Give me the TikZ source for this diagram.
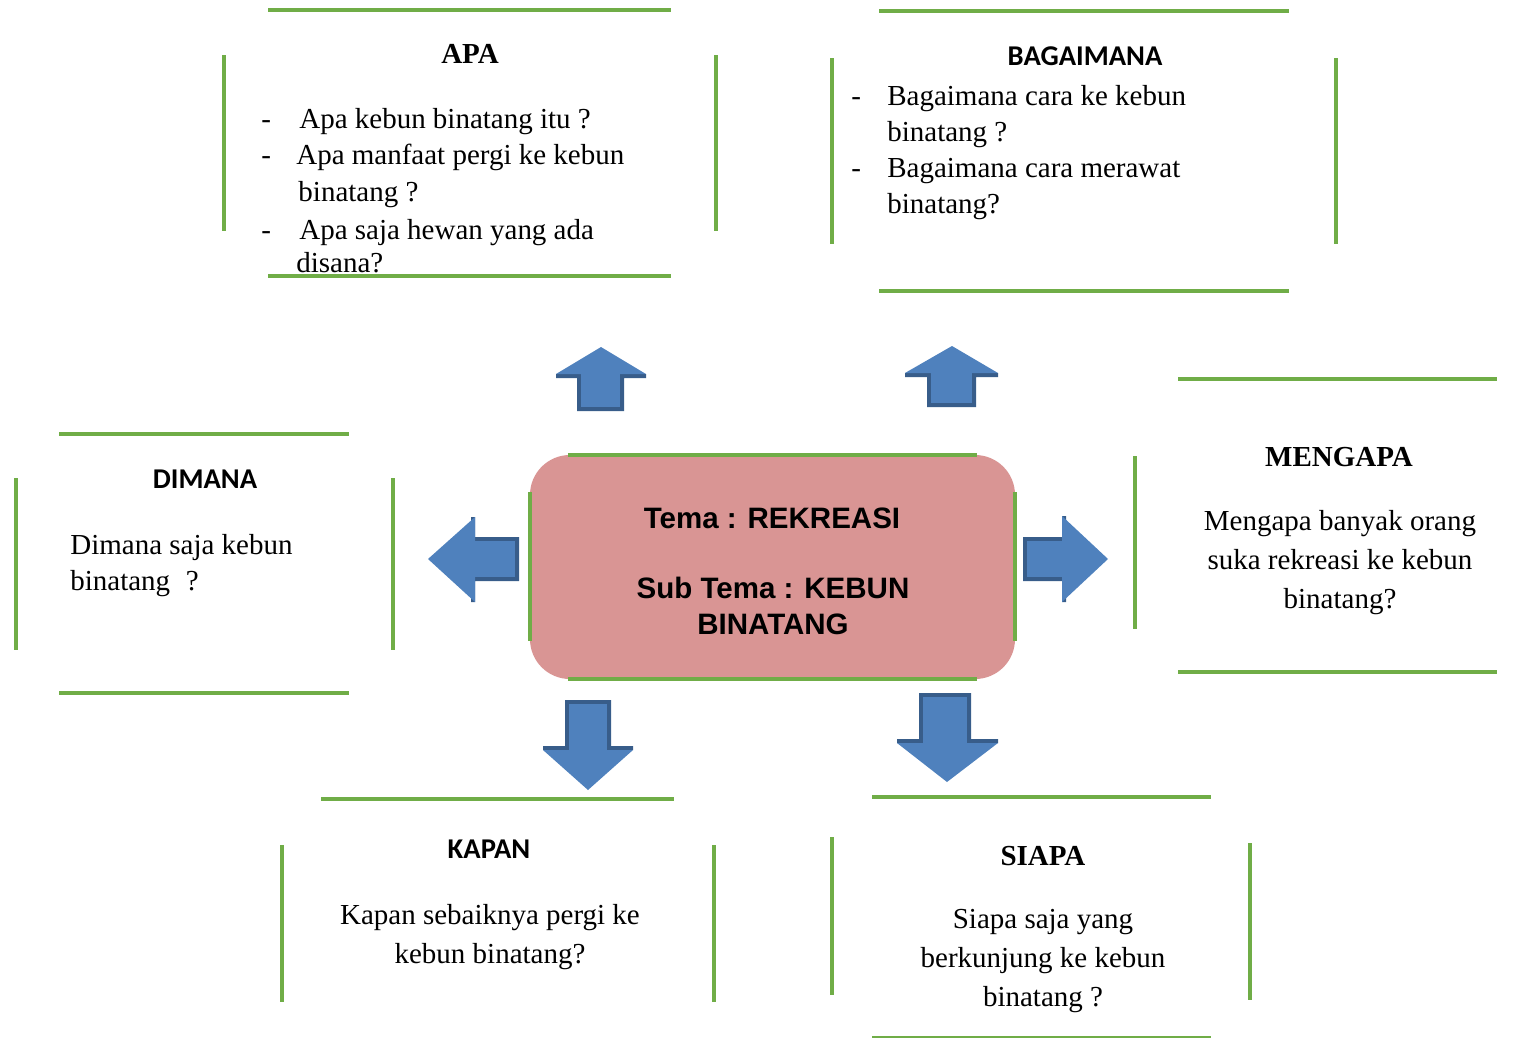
\documentclass[tikz,border=0pt]{standalone}
\usepackage{fontspec}
\setmainfont{Liberation Serif}
\newfontfamily\judulfont{Carlito}
\newfontfamily\temafont{Liberation Sans}
\definecolor{hijau}{RGB}{112,173,71}
\definecolor{merah}{HTML}{D99594}
\definecolor{biru}{HTML}{4F81BD}
\definecolor{birutua}{HTML}{385D8A}
\tikzset{
  garis/.style={hijau,line width=2.8pt},
  judul/.style={font=\bfseries\fontsize{16.5}{20}\selectfont,inner sep=0pt,anchor=base},
  judulsans/.style={font=\judulfont\bfseries\fontsize{16.3}{20}\selectfont,inner sep=0pt,anchor=base},
  isi/.style={font=\fontsize{16.5}{#1}\selectfont,inner sep=0pt,align=left,anchor=base west},
  isi/.default=20.4,
  isitengah/.style={font=\fontsize{16.5}{#1}\selectfont,inner sep=0pt,align=center,anchor=base},
  isitengah/.default=22.1,
  strip/.style={font=\fontsize{16.5}{20}\selectfont,inner sep=0pt,anchor=base west},
  tengah/.style={font=\temafont\bfseries\fontsize{16.8}{20.4}\selectfont,inner sep=0pt,align=center,anchor=base}
}
\begin{document}
\begin{tikzpicture}[x=0.02cm,y=-0.02cm]
\useasboundingbox (0,0) rectangle (1526,1038);
% kotak tema
\fill[merah,rounded corners=22.7pt] (530,455) rectangle (1015,679);
\draw[garis] (568,455)--(977,455) (568,679)--(977,679) (530,492)--(530,641) (1015,492)--(1015,641);
\node[tengah] (tema) at (772,528) {Tema : REKREASI};
\node[tengah] (subtema) at (773,634) {Sub Tema : KEBUN\\BINATANG};
% panah
\fill[birutua] (556,374) rectangle (646,378) (577,374) rectangle (624,411);
\fill[biru] (556,374)--(601,347)--(646,374)--cycle;
\fill[biru] (581,372) rectangle (620,407);
\fill[birutua] (905,373) rectangle (998,377) (927,373) rectangle (976,407);
\fill[biru] (905,373)--(952,346)--(998,373)--cycle;
\fill[biru] (931,371) rectangle (972,403);
\fill[birutua] (543,746) rectangle (633,750) (565,700) rectangle (611,750);
\fill[biru] (543,750)--(588,790)--(633,750)--cycle;
\fill[biru] (569,704) rectangle (607,752);
\fill[birutua] (897,739) rectangle (998,743) (919,693) rectangle (971,743);
\fill[biru] (897,743)--(947,782)--(998,743)--cycle;
\fill[biru] (923,697) rectangle (967,745);
\fill[birutua] (471,517) rectangle (475,602) (471,537) rectangle (519,581);
\fill[biru] (475,517)--(428,559)--(475,602)--cycle;
\fill[biru] (469,541) rectangle (515,577);
\fill[birutua] (1062,516) rectangle (1066,602) (1023,537) rectangle (1066,581);
\fill[biru] (1062,516)--(1108,559)--(1062,602)--cycle;
\fill[biru] (1027,541) rectangle (1068,577);
% APA
\node[judul] (apa) at (470,63) {APA};
\node[strip] (apa-s1) at (261,128) {-};
\node[isi] (apa-1) at (299,128) {Apa kebun binatang itu ?};
\node[strip] (apa-s2) at (261,164) {-};
\node[isi=21] (apa-2) at (296,201) {Apa manfaat pergi ke kebun\\\hspace{1.2pt}binatang ?};
\node[strip] (apa-s3) at (261,239) {-};
\node[isi=18.7] (apa-3) at (299,272) {Apa saja hewan yang ada\\\hspace{-1.7pt}disana?};
\draw[garis] (268,10)--(671,10) (268,276)--(671,276) (224,55)--(224,231) (716,55)--(716,231);
% BAGAIMANA
\draw[garis] (879,11)--(1289,11) (879,291)--(1289,291) (832,58)--(832,244) (1336,58)--(1336,244);
\node[judulsans] (bagaimana) at (1085,65) {BAGAIMANA};
\node[strip] (bagaimana-s1) at (851,105) {-};
\node[isi] (bagaimana-1) at (887,141) {Bagaimana cara ke kebun\\binatang ?};
\node[strip] (bagaimana-s2) at (851,177) {-};
\node[isi] (bagaimana-2) at (887,213) {Bagaimana cara merawat\\binatang?};
% MENGAPA
\draw[garis] (1178,379)--(1497,379) (1178,672)--(1497,672) (1135,456)--(1135,629);
\node[judul] (mengapa) at (1339,466) {MENGAPA};
\node[isitengah] (mengapa-1) at (1340,608) {Mengapa banyak orang\\suka rekreasi ke kebun\\binatang?};
% DIMANA
\draw[garis] (59,434)--(349,434) (59,693)--(349,693) (16,478)--(16,650) (393,478)--(393,650);
\node[judulsans] (dimana) at (205,488) {DIMANA};
\node[isi] (dimana-1) at (70,590) {Dimana saja kebun\\binatang\hspace{9pt}?};
% KAPAN
\draw[garis] (321,799)--(674,799) (282,845)--(282,1002) (714,845)--(714,1002);
\node[judulsans] (kapan) at (489,858) {KAPAN};
\node[isitengah] (kapan-1) at (490,963) {Kapan sebaiknya pergi ke\\kebun binatang?};
% SIAPA
\draw[garis] (872,797)--(1211,797) (872,1038)--(1211,1038) (832,837)--(832,995) (1250,843)--(1250,1000);
\node[judul] (siapa) at (1043,865) {SIAPA};
\node[isitengah] (siapa-1) at (1043,1006) {Siapa saja yang\\berkunjung ke kebun\\binatang ?};
\end{tikzpicture}
\end{document}
